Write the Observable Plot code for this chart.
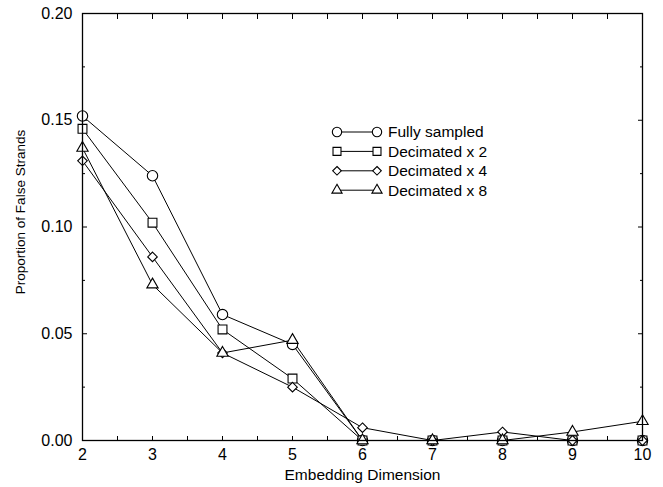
<!DOCTYPE html>
<html><head><meta charset="utf-8">
<script src="https://cdn.jsdelivr.net/npm/d3@7"></script>
<script src="https://cdn.jsdelivr.net/npm/@observablehq/plot@0.6"></script>
<style>
body{margin:0;background:#fff;}
#wrap{width:663px;height:487px;}
</style></head><body><div id="wrap"></div>
<script>
// ---- data ----
const dims = [2, 3, 4, 5, 6, 7, 8, 9, 10];
const fullySampled = [0.152, 0.124, 0.059, 0.045, 0.000, 0.000, 0.000, 0.000, 0.000];
const decimated2   = [0.146, 0.102, 0.052, 0.029, 0.000, 0.000, 0.000, 0.000, 0.000];
const decimated4   = [0.131, 0.086, 0.041, 0.025, 0.006, 0.000, 0.004, 0.000, 0.000];
const decimated8   = [0.137, 0.073, 0.041, 0.047, 0.000, 0.000, 0.000, 0.004, 0.009];
const seriesNames = ["Fully sampled", "Decimated x 2", "Decimated x 4", "Decimated x 8"];
const seriesValues = [fullySampled, decimated2, decimated4, decimated8];
const seriesSymbols = ["circle", "square", "diamond2", "triangle"];
const seriesR = [5.2, 5.0, 4.3, 4.2];
const xTickLabels = [2, 3, 4, 5, 6, 7, 8, 9, 10];
const xTickMarks = [2, 2.5, 3, 3.5, 4, 4.5, 5, 5.5, 6, 6.5, 7, 7.5, 8, 8.5, 9, 9.5, 10];
const yTickLabels = [0, 0.05, 0.10, 0.15, 0.20];
const yMinorTicks = [0.025, 0.075, 0.125, 0.175];

const rows = seriesNames.flatMap((s, si) => dims.map((d, i) => ({dim: d, value: seriesValues[si][i], series: s})));

const font = "'Liberation Sans', Arial, Helvetica, sans-serif";
const d3Symbols = {circle: d3.symbolCircle, square: d3.symbolSquare, diamond2: d3.symbolDiamond2, triangle: d3.symbolTriangle};

// legend drawn as a custom render mark inside the plot svg
function legendMark(index, scales, values, dims_, context) {
  const g = d3.create("svg:g").attr("font-family", font).attr("font-size", 15.5).attr("text-anchor", "start");
  const x0 = 337, x1 = 377, xt = 388, y0 = 132, dy = 19.4;
  seriesNames.forEach((name, i) => {
    const y = y0 + i * dy;
    g.append("line").attr("x1", x0).attr("x2", x1).attr("y1", y).attr("y2", y)
      .attr("stroke", "#000").attr("stroke-width", 1);
    const sym = d3.symbol(d3Symbols[seriesSymbols[i]], Math.PI * Math.pow(seriesR[i] * 0.9, 2));
    [x0, x1].forEach(x => {
      g.append("path").attr("d", sym()).attr("transform", `translate(${x},${y})`)
        .attr("fill", "#fff").attr("stroke", "#000").attr("stroke-width", 1.1);
    });
    g.append("text").attr("x", xt).attr("y", y).attr("dy", "0.35em").attr("fill", "#000")
      .attr("text-anchor", "start").text(name);
  });
  return g.node();
}

const seriesMarks = [];
seriesNames.forEach((s) => {
  seriesMarks.push(Plot.line(rows.filter(r => r.series === s), {x: "dim", y: "value", stroke: "#000", strokeWidth: 1}));
});
seriesNames.forEach((s, i) => {
  seriesMarks.push(Plot.dot(rows.filter(r => r.series === s), {
    x: "dim", y: "value", symbol: seriesSymbols[i], r: seriesR[i],
    stroke: "#000", fill: "#fff", strokeWidth: 1.1
  }));
});

const chart = Plot.plot({
  width: 663, height: 487,
  marginLeft: 82, marginRight: 21, marginTop: 13, marginBottom: 47,
  style: {fontFamily: font, fontSize: "16px", color: "#000", background: "#fff", overflow: "visible"},
  x: {domain: [2, 10], label: null},
  y: {domain: [0, 0.2], label: null},
  marks: [
    Plot.axisX(xTickLabels, {anchor: "bottom", tickSize: 0, tickPadding: 8, fontSize: 16, label: null}),
    Plot.axisX(xTickMarks, {anchor: "bottom", tickSize: -4, tickFormat: () => "", label: null}),
    Plot.axisX(xTickMarks, {anchor: "top", tickSize: -5, tickFormat: () => "", label: null}),
    Plot.axisY(yTickLabels, {anchor: "left", tickSize: -5, tickPadding: 15, tickFormat: d3.format(".2f"), fontSize: 16, label: null}),
    Plot.axisY(yMinorTicks, {anchor: "left", tickSize: -3, tickFormat: () => "", label: null}),
    Plot.axisY(yTickLabels, {anchor: "right", tickSize: -5, tickFormat: () => "", label: null}),
    Plot.axisY(yMinorTicks, {anchor: "right", tickSize: -3, tickFormat: () => "", label: null}),
    Plot.text(["Embedding Dimension"], {frameAnchor: "bottom", dy: 35, fontSize: 15.5, fill: "#000", textAnchor: "middle", lineAnchor: "middle"}),
    Plot.text(["Proportion of False Strands"], {frameAnchor: "left", rotate: -90, dx: -62, dy: -15, fontSize: 13.5, fill: "#000", textAnchor: "middle", lineAnchor: "middle"}),
    ...seriesMarks,
    Plot.frame({stroke: "#000", strokeWidth: 1.3}),
    legendMark
  ]
});
document.getElementById("wrap").appendChild(chart);
</script></body></html>
